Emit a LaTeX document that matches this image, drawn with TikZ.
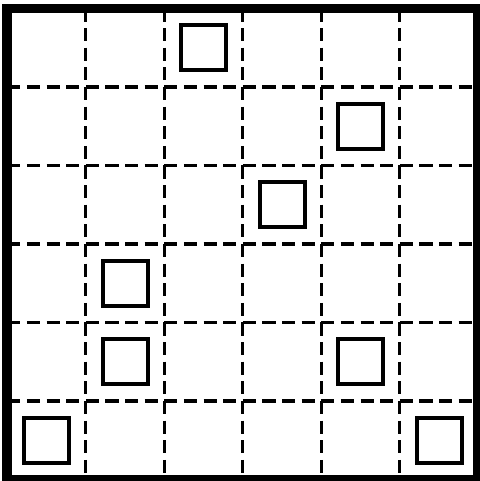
\documentclass[tikz,border=0pt]{standalone}
\usepackage{tikz}
\usetikzlibrary{positioning}

\begin{document}
\begin{tikzpicture}[
    borda/.style={
        line width=3.6pt
    },
    grade/.style={
        line width=1.2pt,
        dash pattern=on 0.1667cm off 0.0833cm
    },
    peca/.style={
        draw,
        line width=1.45pt,
        minimum size=0.574cm,
        inner sep=0pt
    }
]
\useasboundingbox (-0.093,-0.019) rectangle (6.013,6.108);

% Linhas da grade
\foreach \i in {1,...,5} {
    \draw[grade] (\i,6) -- (\i,0);
    \draw[grade] (0,\i) -- (6,\i);
}

% Borda
\draw[borda] (0,0) rectangle (6,6);

% Pecas
\node[peca] (p1) at (2.5,5.5) {};
\node[peca] (p2) at (4.5,4.5) {};
\node[peca] (p3) at (3.5,3.5) {};
\node[peca] (p4) at (1.5,2.5) {};
\node[peca] (p5) at (1.5,1.5) {};
\node[peca] (p6) at (4.5,1.5) {};
\node[peca] (p7) at (0.5,0.5) {};
\node[peca] (p8) at (5.5,0.5) {};

\end{tikzpicture}
\end{document}
